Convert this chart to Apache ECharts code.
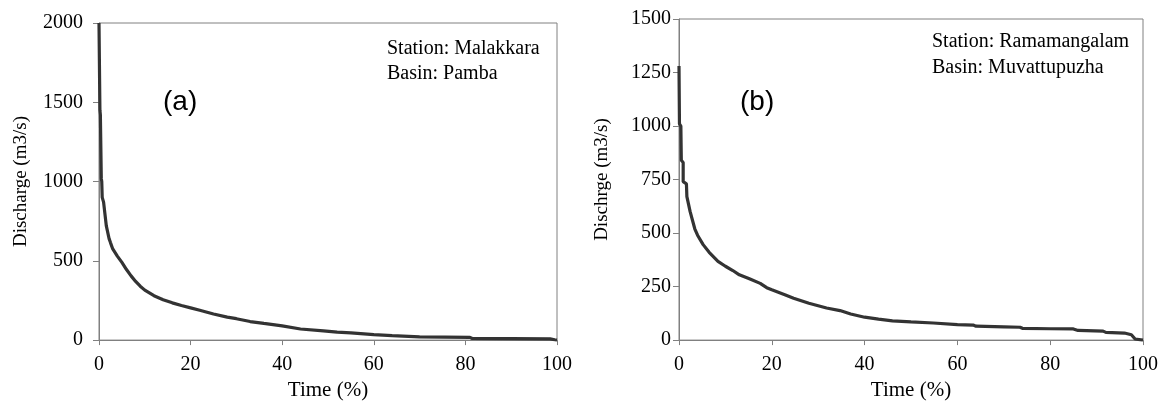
<!DOCTYPE html>
<html>
<head>
<meta charset="utf-8">
<script src="https://cdn.jsdelivr.net/npm/echarts@6/dist/echarts.min.js"></script>
<style>
html,body{margin:0;padding:0;background:#fff;}
#chart{width:1163px;height:406px;}
</style>
</head>
<body>
<div id="chart"></div>
<script>
// Panel (a): Station Malakkara, Basin Pamba
const timeA = [0, 0.2, 0.3, 0.5, 0.6, 0.7, 1.0, 1.6, 2.2, 2.5, 3, 4, 5, 6, 7, 8, 9, 10, 12, 14, 16, 18, 20, 22, 25, 28, 30, 33, 36, 40, 44, 49, 52, 55, 60, 64, 64.1, 70, 81, 81.5, 90, 98.5, 99.5, 100];
const dischargeA = [2000, 1450, 1420, 1020, 1000, 900, 870, 720, 640, 615, 575, 530, 490, 445, 405, 370, 340, 315, 280, 255, 235, 218, 203, 188, 165, 145, 135, 117, 105, 90, 70, 58, 50, 45, 35, 28, 22, 20, 17, 10, 9, 8, 2, 0];
// Panel (b): Station Ramamangalam, Basin Muvattupuzha
const timeB = [0, 0.1, 0.4, 0.5, 0.9, 0.9, 1.6, 1.7, 2.4, 3.4, 4, 5.2, 6.5, 8.4, 10, 11.6, 13, 15.3, 17.5, 18.9, 20, 22.8, 24.7, 28, 31.8, 34.7, 37, 40, 43, 46, 50, 54.8, 55, 60, 63.4, 64, 70, 73.5, 74, 80, 85, 86, 91.4, 92, 96, 97.5, 98.3, 98.5, 100];
const dischargeB = [1280, 1010, 1000, 840, 830, 740, 730, 670, 600, 520, 490, 446, 410, 368, 345, 325, 305, 285, 265, 245, 235, 212, 196, 172, 150, 138, 122, 107, 98, 90, 85, 80, 75, 72, 70, 65, 62, 60, 55, 53, 52, 45, 42, 36, 33, 25, 5, 0, 0];
const xTicks = [0, 20, 40, 60, 80, 100];
const yTicksA = [0, 500, 1000, 1500, 2000];
const yTicksB = [0, 250, 500, 750, 1000, 1250, 1500];
const infoA = ['Station: Malakkara', 'Basin: Pamba'];
const infoB = ['Station: Ramamangalam', 'Basin: Muvattupuzha'];

const zip = (xs, ys) => xs.map((x, i) => [x, ys[i]]);
const serif = 'Liberation Serif';
const axisGray = '#808080';

function xAxisCfg(gi) {
  return {
    type: 'value', gridIndex: gi,
    min: xTicks[0], max: xTicks[xTicks.length - 1], interval: xTicks[1] - xTicks[0],
    name: 'Time (%)', nameLocation: 'middle', nameGap: 37,
    nameTextStyle: { fontFamily: serif, fontSize: 21, color: '#000' },
    axisLine: { show: true, lineStyle: { color: axisGray, width: 1 } },
    axisTick: { show: true, length: 5, lineStyle: { color: axisGray } },
    axisLabel: { fontFamily: serif, fontSize: 20, color: '#000', margin: 15, formatter: v => String(v) },
    splitLine: { show: false }
  };
}
function yAxisCfg(gi, ticks, name, gap, margin) {
  return {
    type: 'value', gridIndex: gi,
    min: ticks[0], max: ticks[ticks.length - 1], interval: ticks[1] - ticks[0],
    name: name, nameLocation: 'middle', nameGap: gap, nameRotate: 90,
    nameTextStyle: { fontFamily: serif, fontSize: 19, color: '#000' },
    axisLine: { show: true, lineStyle: { color: axisGray, width: 1 } },
    axisTick: { show: true, length: 6, lineStyle: { color: axisGray } },
    axisLabel: { fontFamily: serif, fontSize: 20, color: '#000', margin: margin, formatter: v => String(v) },
    splitLine: { show: false }
  };
}
function infoText(lines, x, y0, dy) {
  return lines.map((t, i) => ({
    type: 'text', left: x, top: y0 + i * dy - 11,
    style: { text: t, font: '20px "Liberation Serif"', fill: '#000' }
  }));
}

const chart = echarts.init(document.getElementById('chart'), null, { renderer: 'canvas' });
chart.setOption({
  animation: false,
  backgroundColor: '#fff',
  grid: [
    { left: 99, top: 23, width: 458, height: 324, show: true, borderColor: axisGray, borderWidth: 1, backgroundColor: 'transparent' },
    { left: 679, top: 19, width: 464, height: 326, show: true, borderColor: axisGray, borderWidth: 1, backgroundColor: 'transparent' }
  ],
  xAxis: [xAxisCfg(0), xAxisCfg(1)],
  yAxis: [
    yAxisCfg(0, yTicksA, 'Discharge (m3/s)', 68, 16),
    yAxisCfg(1, yTicksB, 'Dischrge (m3/s)', 67, 8)
  ],
  series: [
    { type: 'line', xAxisIndex: 0, yAxisIndex: 0, data: zip(timeA, dischargeA), showSymbol: false, smooth: false,
      lineStyle: { color: '#333', width: 3.2 } },
    { type: 'line', xAxisIndex: 1, yAxisIndex: 1, data: zip(timeB, dischargeB), showSymbol: false, smooth: false,
      lineStyle: { color: '#333', width: 3.2 } }
  ],
  graphic: [
    ...infoText(infoA, 387, 50, 25),
    ...infoText(infoB, 932, 43, 26),
    { type: 'text', left: 163, top: 88, style: { text: '(a)', font: '28px "Liberation Sans"', fill: '#000' } },
    { type: 'text', left: 740, top: 88, style: { text: '(b)', font: '28px "Liberation Sans"', fill: '#000' } }
  ]
});
</script>
</body>
</html>
